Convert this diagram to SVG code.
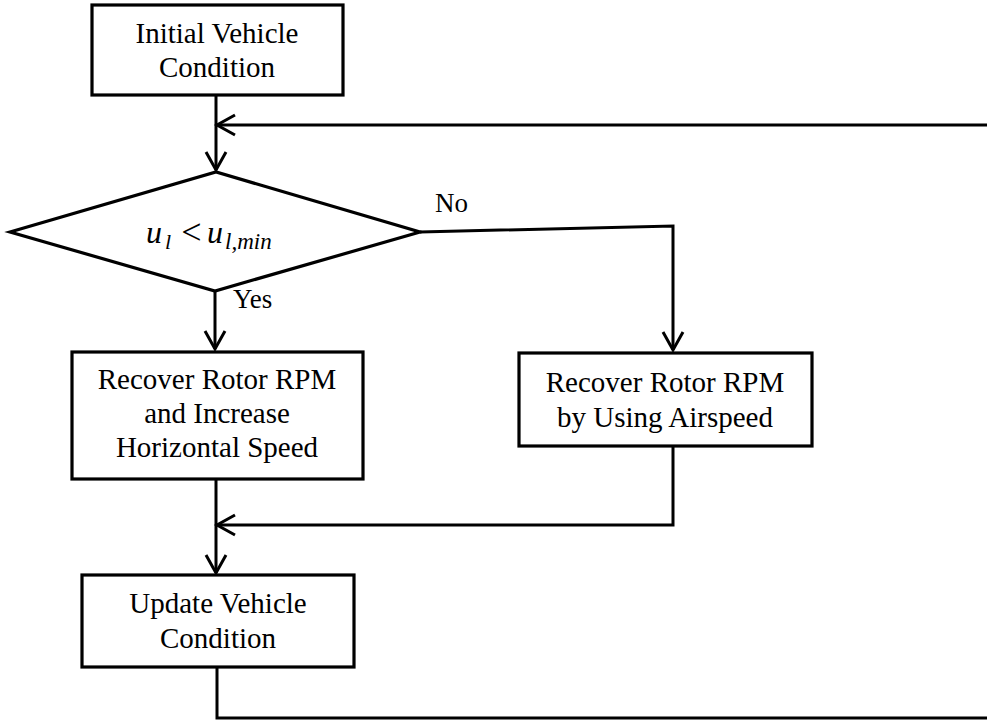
<svg xmlns="http://www.w3.org/2000/svg" width="987" height="721" viewBox="0 0 987 721">
<defs>
<style>
.box{fill:#fff;stroke:#000;stroke-width:3.2}
.ln{fill:none;stroke:#000;stroke-width:3}
.t{font-family:"Liberation Serif","Times New Roman",serif;font-size:29px;fill:#000;text-anchor:middle}
.lbl{font-family:"Liberation Serif","Times New Roman",serif;font-size:27px;fill:#000}
.m{font-family:"Liberation Serif","Times New Roman",serif;font-style:italic;fill:#000}
</style>
<marker id="ah" viewBox="-20 -12 22 24" refX="0" refY="0" markerWidth="22" markerHeight="24" markerUnits="userSpaceOnUse" orient="auto" overflow="visible">
<path d="M-18,-10 L0,0 L-18,10" fill="none" stroke="#000" stroke-width="3"/>
</marker>
</defs>
<g id="connectors">
<path class="ln" d="M216,95 L216,170" marker-end="url(#ah)"/>
<path class="ln" d="M987,125 L217,125" marker-end="url(#ah)"/>
<path class="ln" d="M420,232 L673,226 L673,350" marker-end="url(#ah)"/>
<path class="ln" d="M215,291 L215,349" marker-end="url(#ah)"/>
<path class="ln" d="M673,446 L673,525 L217,525" marker-end="url(#ah)"/>
<path class="ln" d="M216,479 L216,573" marker-end="url(#ah)"/>
<path class="ln" d="M217,667 L217,718 L987,718"/>
<text class="lbl" x="435" y="212">No</text>
<text class="lbl" x="233" y="308">Yes</text>
</g>
<g id="initial">
<rect class="box" x="92" y="5" width="251" height="90"/>
<text class="t" x="217" y="43">Initial Vehicle</text>
<text class="t" x="217" y="77">Condition</text>
</g>
<g id="decision">
<polygon class="box" points="10,232 216,172 420,232 215,291"/>
<text class="m" x="146" y="243" font-size="32">u</text>
<text class="m" x="165" y="249" font-size="22">l</text>
<text class="m" x="179" y="244" font-size="36" font-style="normal">&lt;</text>
<text class="m" x="207" y="243" font-size="32">u</text>
<text class="m" x="225" y="249" font-size="23">l,min</text>
</g>
<g id="recover-left">
<rect class="box" x="72" y="352" width="291" height="127"/>
<text class="t" x="217" y="389">Recover Rotor RPM</text>
<text class="t" x="217" y="423">and Increase</text>
<text class="t" x="217" y="457">Horizontal Speed</text>
</g>
<g id="recover-right">
<rect class="box" x="519" y="353" width="293" height="93"/>
<text class="t" x="665" y="392">Recover Rotor RPM</text>
<text class="t" x="665" y="427">by Using Airspeed</text>
</g>
<g id="update">
<rect class="box" x="82" y="575" width="272" height="92"/>
<text class="t" x="218" y="613">Update Vehicle</text>
<text class="t" x="218" y="648">Condition</text>
</g>
</svg>
